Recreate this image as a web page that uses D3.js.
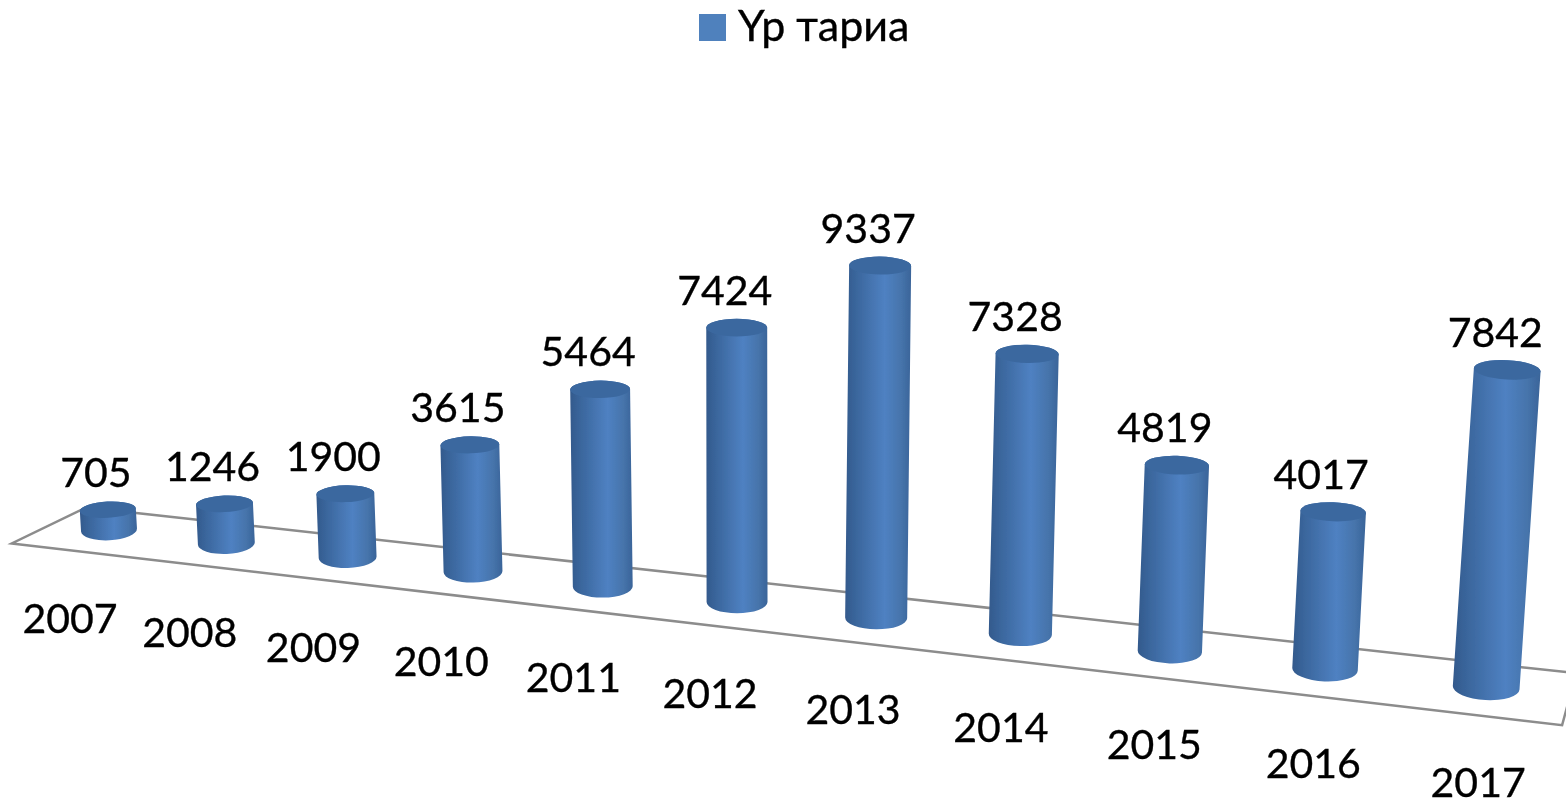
<!DOCTYPE html>
<html>
<head>
<meta charset="utf-8">
<script src="https://cdn.jsdelivr.net/npm/d3@7"></script>
<style>
  html, body { margin: 0; background: #fff; overflow: hidden; }
  text { font-family: Lato, "Open Sans", sans-serif; fill: #000; stroke: #000; stroke-width: 0.35; }
</style>
</head>
<body>
<svg id="chart" width="1566" height="801"></svg>
<script>
const years = [2007, 2008, 2009, 2010, 2011, 2012, 2013, 2014, 2015, 2016, 2017];
const values = [705, 1246, 1900, 3615, 5464, 7424, 9337, 7328, 4819, 4017, 7842];
const seriesName = "Үр тариа";

const svg = d3.select("#chart");
const last = years.length - 1;

// perspective: everything along the floor is divided by w
const wScale = d3.scaleLinear().domain([0, last]).range([1, 0.8384]);
const xScale = d3.scaleLinear().domain([0, last]).range([109, 1246]);
const yScale = d3.scaleLinear().domain([0, last]).range([530, 576.6]);
const hScale = d3.scaleLinear().domain([0, 10000]).range([-4, 341]);
const tiltScale = d3.scaleLinear().domain([0, last]).range([-3, 3]);
const yearDx = d3.scaleLinear().domain([0, 5, last]).range([-39, -27, -8]);
const yearDy = d3.scaleLinear().domain([0, last]).range([103, 109]);

// floor offsets from the line the bars stand on
const backDx = d3.scaleLinear().domain([-0.5, last + 0.5]).range([34.5, 7]);
const backDy = d3.scaleLinear().domain([-0.5, last + 0.5]).range([-16, -24]);
const frontDx = d3.scaleLinear().domain([-0.5, last + 0.5]).range([-40, -7]);
const frontDy = d3.scaleLinear().domain([-0.5, last + 0.5]).range([20, 28]);

const baseX = i => xScale(i) / wScale(i);
const baseY = i => yScale(i) / wScale(i);
const radius = i => 28 / wScale(i);
const barHeight = i => hScale(values[i]) / wScale(i);
const lean = i => (baseX(i) - 750) * barHeight(i) * 9e-5;
const topX = i => baseX(i) + lean(i);
const topY = i => baseY(i) - barHeight(i);

// floor frame
const floor = [
  [baseX(-0.5) + backDx(-0.5), baseY(-0.5) + backDy(-0.5)],
  [baseX(last + 0.5) + backDx(last + 0.5), baseY(last + 0.5) + backDy(last + 0.5)],
  [baseX(last + 0.5) + frontDx(last + 0.5), baseY(last + 0.5) + frontDy(last + 0.5)],
  [baseX(-0.5) + frontDx(-0.5), baseY(-0.5) + frontDy(-0.5)]
];
svg.append("path")
  .attr("d", d3.line()(floor) + "Z")
  .attr("fill", "none")
  .attr("stroke", "#8c8c8c")
  .attr("stroke-width", 2.5);

// gradients
const defs = svg.append("defs");
const bodyGrad = defs.append("linearGradient").attr("id", "body");
[[0, "#33598c"], [0.12, "#386398"], [0.6, "#4f81c2"], [0.85, "#4674ab"], [1, "#3a6499"]]
  .forEach(s => bodyGrad.append("stop").attr("offset", s[0]).attr("stop-color", s[1]));
defs.append("filter").attr("id", "soft")
  .append("feGaussianBlur").attr("stdDeviation", 0.5);

// cylinders
const bars = svg.append("g").attr("filter", "url(#soft)")
  .selectAll("g").data(years).join("g");

bars.append("path")
  .attr("fill", "url(#body)")
  .attr("d", (d, i) => {
    const r = radius(i), a = tiltScale(i) * Math.PI / 180;
    const dx = r * Math.cos(a), dy = r * Math.sin(a);
    const ry = r * 0.37;
    return `M${topX(i) - dx},${topY(i) - dy}` +
      `L${baseX(i) - dx},${baseY(i) - dy}` +
      `A${r},${ry} ${tiltScale(i)} 0 0 ${baseX(i) + dx},${baseY(i) + dy}` +
      `L${topX(i) + dx},${topY(i) + dy}` +
      `A${r},${r * 0.29} ${tiltScale(i)} 0 0 ${topX(i) - dx},${topY(i) - dy}Z`;
  });

bars.append("ellipse")
  .attr("rx", (d, i) => radius(i))
  .attr("ry", (d, i) => radius(i) * 0.29)
  .attr("transform", (d, i) => `translate(${topX(i)},${topY(i)}) rotate(${tiltScale(i)})`)
  .attr("fill", "#3b689f");

// value labels
svg.append("g").selectAll("text").data(values).join("text")
  .attr("x", (d, i) => topX(i) - 12)
  .attr("y", (d, i) => topY(i) - 23)
  .attr("text-anchor", "middle")
  .attr("font-size", 41)
  .text(d => d);

// year labels
svg.append("g").selectAll("text").data(years).join("text")
  .attr("x", (d, i) => baseX(i) + yearDx(i))
  .attr("y", (d, i) => baseY(i) + yearDy(i))
  .attr("text-anchor", "middle")
  .attr("font-size", 41)
  .text(d => d);

// legend
svg.append("rect")
  .attr("x", 699).attr("y", 14)
  .attr("width", 27).attr("height", 27)
  .attr("fill", "#4f81bd");
svg.append("text")
  .attr("x", 738).attr("y", 41)
  .attr("font-size", 43)
  .text(seriesName);
</script>
</body>
</html>
